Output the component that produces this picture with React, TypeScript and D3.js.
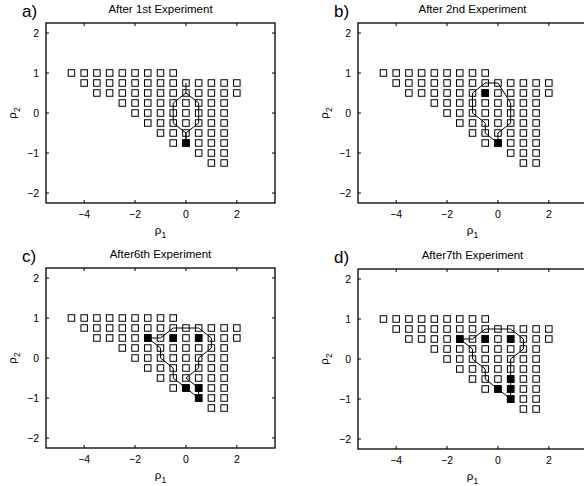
import * as React from "react";
import * as d3 from "d3";

// candidate grid: one row of rho1 values per rho2 level
const rowY = [1, 0.75, 0.5, 0.25, 0, -0.25, -0.5, -0.75, -1, -1.25];
const rowX = [
  [-4.5, -4, -3.5, -3, -2.5, -2, -1.5, -1, -0.5],
  [-4, -3.5, -3, -2.5, -2, -1.5, -1, -0.5, 0, 0.5, 1, 1.5, 2],
  [-3.5, -3, -2.5, -2, -1.5, -1, -0.5, 0, 0.5, 1, 1.5, 2],
  [-2.5, -2, -1.5, -1, -0.5, 0, 0.5, 1, 1.5],
  [-2, -1.5, -1, -0.5, 0, 0.5, 1, 1.5],
  [-1.5, -1, -0.5, 0, 0.5, 1, 1.5],
  [-1, -0.5, 0, 0.5, 1, 1.5],
  [-0.5, 0, 0.5, 1, 1.5],
  [0.5, 1, 1.5],
  [1, 1.5],
];

const titles = [
  "After 1st Experiment",
  "After 2nd Experiment",
  "After6th Experiment",
  "After7th Experiment",
];
const letters = ["a)", "b)", "c)", "d)"];

// chosen (filled) points per panel
const filledA = [[0, -0.75]];
const filledB = [[-0.5, 0.5], [0, -0.75]];
const filledC = [[-1.5, 0.5], [-0.5, 0.5], [0.5, 0.5], [0, -0.75], [0.5, -0.75], [0.5, -1]];
const filledD = [[-1.5, 0.5], [-0.5, 0.5], [0.5, 0.5], [0.5, -0.5], [0, -0.75], [0.5, -0.75], [0.5, -1]];

// outline of the region per panel
const outlineA = [
  [0, 0.75], [0, 0.5], [0.5, 0.25], [0.5, -0.25], [0, -0.5], [0, -0.75],
  [0, -0.5], [-0.5, -0.25], [-0.5, 0.25], [0, 0.5],
];
const outlineB = [
  [-0.5, 0.75], [0, 0.75], [0.5, 0.25], [0.5, -0.25], [0, -0.5], [0, -0.75],
  [-0.5, -0.5], [-0.5, -0.25], [-1, 0], [-1, 0.5], [-0.5, 0.75],
];
const outlineC = [
  [-1.5, 0.5], [-1, 0.5], [-0.5, 0.75], [0.5, 0.75], [1, 0.5], [1, 0.25],
  [0.5, 0], [0.5, -0.25], [0, -0.5], [0.5, -0.75], [0.5, -1], [0, -0.75],
  [-0.5, -0.5], [-0.5, -0.25], [-1, 0], [-1, 0.25], [-1.5, 0.5],
];
const outlineD = [
  [-1.5, 0.5], [-1, 0.5], [-0.5, 0.75], [0.5, 0.75], [1, 0.5], [1, 0.25],
  [0.5, 0], [0.5, -1], [0, -0.75], [-0.5, -0.5], [-0.5, -0.25], [-1, 0],
  [-1, 0.25], [-1.5, 0.5],
];

const xTicks = [-4, -2, 0, 2];
const yTicks = [-2, -1, 0, 1, 2];

const filled = [filledA, filledB, filledC, filledD];
const outlines = [outlineA, outlineB, outlineC, outlineD];

const font = "Liberation Sans, Arial, Helvetica, sans-serif";
const fmt = (v: number) => (v < 0 ? "\u2212" + Math.abs(v) : String(v));

const Panel = ({ i, left, top }: { i: number; left: number; top: number }) => {
  const w = 229;
  const h = 180;
  const x = d3.scaleLinear().domain([-5.5, 3.5]).range([0, w]);
  const y = d3.scaleLinear().domain([-2.25, 2.25]).range([h, 0]);
  const line = d3
    .line<number[]>()
    .x((d) => x(d[0]))
    .y((d) => y(d[1]));
  const s = 6.5;
  const tl = 3;

  return (
    <g transform={`translate(${left},${top})`} fontFamily={font}>
      <text x={w / 2} y={-10} textAnchor="middle" fontSize={11.5}>
        {titles[i]}
      </text>
      <text x={-24} y={-6} fontSize={17}>
        {letters[i]}
      </text>
      <rect width={w} height={h} fill="white" stroke="black" strokeWidth={1.3} />
      {xTicks.map((t) => (
        <g key={"x" + t}>
          <line x1={x(t)} x2={x(t)} y1={h} y2={h - tl} stroke="black" />
          <line x1={x(t)} x2={x(t)} y1={0} y2={tl} stroke="black" />
          <text x={x(t)} y={h + 15} textAnchor="middle" fontSize={10.5}>
            {fmt(t)}
          </text>
        </g>
      ))}
      {yTicks.map((t) => (
        <g key={"y" + t}>
          <line x1={0} x2={tl} y1={y(t)} y2={y(t)} stroke="black" />
          <line x1={w} x2={w - tl} y1={y(t)} y2={y(t)} stroke="black" />
          <text x={-7} y={y(t) + 3.5} textAnchor="end" fontSize={10.5}>
            {fmt(t)}
          </text>
        </g>
      ))}
      <text x={w / 2} y={h + 31} textAnchor="middle" fontSize={11.5}>
        ρ<tspan dy={4} fontSize={8.5}>1</tspan>
      </text>
      <text
        transform={`translate(${-30},${h / 2}) rotate(-90)`}
        textAnchor="middle"
        fontSize={11.5}
      >
        ρ<tspan dy={4} fontSize={8.5}>2</tspan>
      </text>
      {rowY.map((ry, r) =>
        rowX[r].map((rx) => (
          <rect
            key={`${r}-${rx}`}
            x={x(rx) - s / 2}
            y={y(ry) - s / 2}
            width={s}
            height={s}
            fill="white"
            stroke="black"
            strokeWidth={1}
          />
        ))
      )}
      <path d={line(outlines[i]) || ""} fill="none" stroke="black" strokeWidth={1} />
      {filled[i].map((p, k) => (
        <rect
          key={"f" + k}
          x={x(p[0]) - s / 2}
          y={y(p[1]) - s / 2}
          width={s}
          height={s}
          fill="black"
          stroke="black"
        />
      ))}
    </g>
  );
};

export default function App() {
  return (
    <svg width={584} height={486} style={{ position: "absolute", left: 0, top: 0 }}>
      <rect width={584} height={486} fill="white" />
      <Panel i={0} left={46} top={23} />
      <Panel i={1} left={358} top={23} />
      <Panel i={2} left={46} top={268} />
      <Panel i={3} left={358} top={269} />
    </svg>
  );
}
